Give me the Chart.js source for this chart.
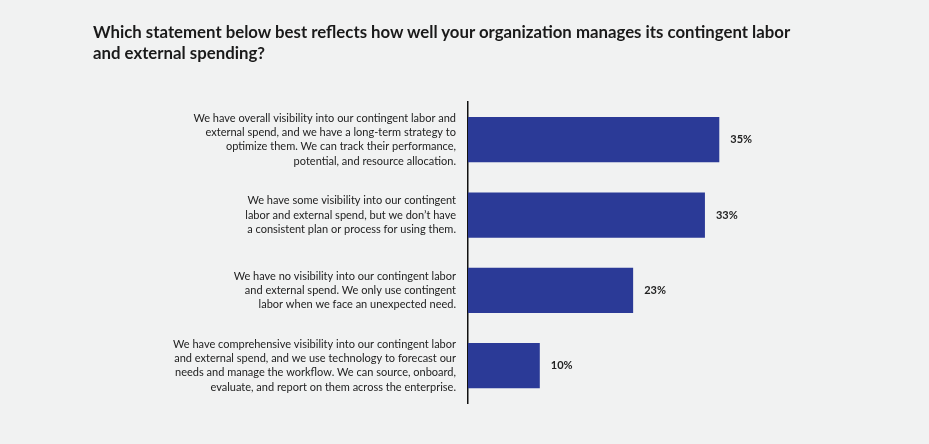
<!DOCTYPE html>
<html>
<head>
<meta charset="utf-8">
<script src="https://cdn.jsdelivr.net/npm/chart.js@4"></script>
<style>
  html, body { margin: 0; padding: 0; background: #f1f2f2; }
  .wrap { position: relative; width: 929px; height: 444px; }
  .title {
    position: absolute; left: 93px; top: 21px;
    font-family: Lato, sans-serif; font-weight: bold; font-size: 16.8px;
    line-height: 21px; color: #1a1a1a;
  }
</style>
</head>
<body>
<div class="wrap">
  <div class="title">Which statement below best reflects how well your organization manages its contingent labor<br>and external spending?</div>
  <canvas id="myChart" width="929" height="444"></canvas>
</div>
<script>
// survey answers, one entry per bar (lines are how the label wraps)
var statements = [
    ['We have overall visibility into our contingent labor and',
     'external spend, and we have a long-term strategy to',
     'optimize them. We can track their performance,',
     'potential, and resource allocation.'],
    ['We have some visibility into our contingent',
     'labor and external spend, but we don\u2019t have',
     'a consistent plan or process for using them.'],
    ['We have no visibility into our contingent labor',
     'and external spend. We only use contingent',
     'labor when we face an unexpected need.'],
    ['We have comprehensive visibility into our contingent labor',
     'and external spend, and we use technology to forecast our',
     'needs and manage the workflow. We can source, onboard,',
     'evaluate, and report on them across the enterprise.']
];
var percentages = [35, 33, 23, 10];

// writes "35%" etc. just past the end of each bar
const valueLabels = {
    id: 'valueLabels',
    afterDatasetsDraw(chart) {
        const ctx = chart.ctx;
        const meta = chart.getDatasetMeta(0);
        ctx.save();
        ctx.font = 'bold 11px Lato, sans-serif';
        ctx.fillStyle = '#222222';
        ctx.textBaseline = 'middle';
        ctx.textAlign = 'left';
        meta.data.forEach((bar, i) => {
            ctx.fillText(percentages[i] + '%', bar.x + 11, bar.y);
        });
        ctx.restore();
    }
};

const config = {
    type: 'bar',
    data: {
        labels: statements,
        datasets: [{
            data: percentages,
            backgroundColor: '#2b3a97',
            barPercentage: 0.6,
            categoryPercentage: 1
        }]
    },
    options: {
        indexAxis: 'y',
        responsive: false,
        animation: false,
        layout: {
            padding: { top: 102, bottom: 39, left: 0, right: 102 }
        },
        plugins: {
            legend: { display: false },
            tooltip: { enabled: false }
        },
        scales: {
            x: {
                display: false,
                min: 0,
                max: 50
            },
            y: {
                afterFit: (scale) => { scale.width = 468; },
                grid: { display: false, drawTicks: false },
                border: { display: true, color: '#111111', width: 1.5 },
                ticks: {
                    padding: 12,
                    color: '#222222',
                    font: { family: 'Lato, sans-serif', size: 11, lineHeight: 1.3 }
                }
            }
        }
    },
    plugins: [valueLabels]
};
var myChart = new Chart(document.getElementById('myChart'), config);
</script>
</body>
</html>
